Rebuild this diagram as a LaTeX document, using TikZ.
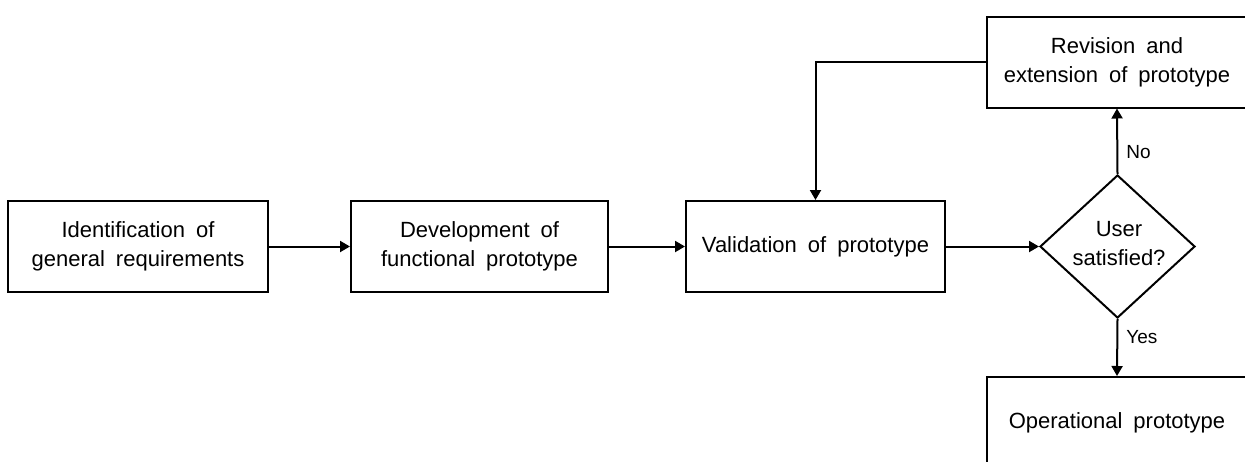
\documentclass[tikz,border=0pt]{standalone}
\usepackage{fontspec}
\setmainfont[WordSpace=1.8]{Liberation Sans}
\usetikzlibrary{arrows.meta,shapes.geometric}
\begin{document}
\begin{tikzpicture}[x=1pt,y=-1pt,
  stepbox/.style={draw,line width=2pt,minimum width=260pt,minimum height=91pt,inner sep=0pt,align=center,font=\fontsize{22}{29}\selectfont},
  decision/.style={draw,diamond,line width=2pt,minimum width=155pt,minimum height=143pt,inner sep=0pt},
  dtext/.style={align=center,font=\fontsize{22}{29}\selectfont,inner sep=0pt},
  lbl/.style={font=\fontsize{19}{22}\selectfont,inner sep=0pt},
  arr/.style={line width=2pt,-{Triangle[length=10pt,width=11pt]}}]
\useasboundingbox (0,0) rectangle (1245,461);
\fill[white] (0,0) rectangle (1245,461);
\clip (0,0) rectangle (1245,461);
\node[stepbox] (req) at (138,246.5) {Identification of\\general requirements};
\node[stepbox,minimum width=257pt] (dev) at (479.5,246.5) {Development of\\functional prototype};
\node[stepbox,minimum width=259pt] (val) at (815.5,246.5) {Validation of prototype};
\node[decision] (dec) at (1117.5,246.5) {};
\node[dtext] (dect) at (1119,244) {User\\satisfied?};
\node[stepbox] (rev) at (1117,62) {Revision and\\extension of prototype};
\node[stepbox] (op) at (1117,422.5) {Operational prototype};
\draw[arr] (req.east) -- (dev.west);
\draw[arr] (dev.east) -- (val.west);
\draw[arr] (val.east) -- (dec.west);
\draw[arr] (dec.north) -- node[lbl,right=8pt,pos=0.33] (no) {No} (rev.south);
\draw[arr] (dec.south) -- node[lbl,right=8pt,pos=0.32] (yes) {Yes} (op.north);
\draw[arr] (rev.west) -| (val.north);
\end{tikzpicture}
\end{document}
